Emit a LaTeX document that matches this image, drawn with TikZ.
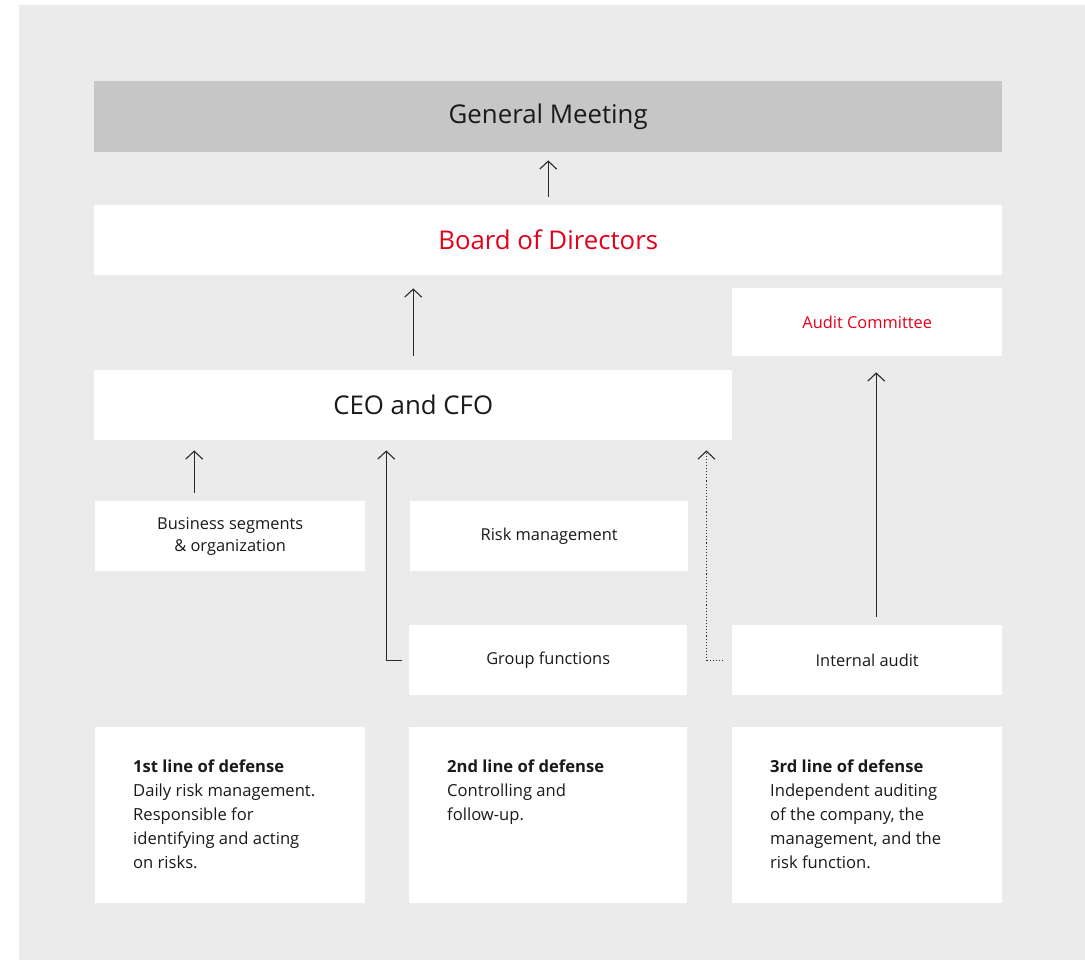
\documentclass[tikz,border=0pt]{standalone}
\usepackage{fontspec}
\setmainfont{Open Sans}
\usetikzlibrary{arrows.meta,calc}
\definecolor{bggray}{HTML}{EBEBEB}
\definecolor{gmgray}{HTML}{C6C6C6}
\definecolor{txt}{HTML}{1A1A1A}
\definecolor{redtxt}{HTML}{E2001A}
\definecolor{linec}{HTML}{2A2A2A}
\tikzset{
  box/.style={anchor=north west, fill=white, draw=none, inner sep=0pt, text=txt, align=center},
  bigtxt/.style={font=\fontsize{25.8}{30}\selectfont},
  smalltxt/.style={font=\fontsize{16.4}{22}\selectfont},
  desctxt/.style={anchor=north west, inner sep=0pt, align=left, text=txt, font=\fontsize{16.6}{24}\selectfont},
  arr/.style={draw=linec, line width=1.1pt, -{Straight Barb[length=8pt,width=17pt,line width=1.1pt]}},
}
\begin{document}
\begin{tikzpicture}[x=1pt,y=-1pt]
\useasboundingbox (0,0) rectangle (1085,960);
\fill[bggray] (19,5) rectangle (1085,960);
% boxes
\node[box, fill=gmgray, minimum width=908pt, minimum height=71pt, bigtxt] (gm) at (94,81) {General Meeting};
\node[box, minimum width=908pt, minimum height=70pt, bigtxt, text=redtxt] (bod) at (94,205) {Board of Directors};
\node[box, minimum width=270pt, minimum height=68pt, smalltxt, text=redtxt] (ac) at (732,288) {Audit Committee};
\node[box, minimum width=638pt, minimum height=70pt, bigtxt] (ceo) at (94,370) {CEO and CFO};
\node[box, minimum width=270pt, minimum height=70pt, smalltxt] (bus) at (95,501) {Business segments\\\& organization};
\node[box, minimum width=278pt, minimum height=70pt, smalltxt] (risk) at (410,501) {Risk management};
\node[box, minimum width=278pt, minimum height=70pt, smalltxt] (grp) at (409,625) {Group functions};
\node[box, minimum width=270pt, minimum height=70pt, smalltxt] (ia) at (732,625) {Internal audit};
\node[box, minimum width=270pt, minimum height=176pt] (l1) at (95,727) {};
\node[box, minimum width=278pt, minimum height=176pt] (l2) at (409,727) {};
\node[box, minimum width=270pt, minimum height=176pt] (l3) at (732,727) {};
% descriptions
\node[desctxt] (d1) at ($(l1.north west)+(38,33)$) {\textbf{1st line of defense}\\Daily risk management.\\Responsible for\\identifying and acting\\on risks.};
\node[desctxt] (d2) at ($(l2.north west)+(38,33)$) {\textbf{2nd line of defense}\\Controlling and\\follow-up.};
\node[desctxt] (d3) at ($(l3.north west)+(38,33)$) {\textbf{3rd line of defense}\\Independent auditing\\of the company, the\\management, and the\\risk function.};
% arrows
\draw[arr] ($(bod.north)+(0,-8)$) -- ($(gm.south)+(0,8)$);
\draw[arr] ($(ceo.north)+(0,-14)$) -- ($(ceo.north |- bod.south)+(0,13)$);
\coordinate (b1) at ($(bus.north)+(-36,-8)$);
\draw[arr] (b1) -- ($(b1 |- ceo.south)+(0,10)$);
\draw[arr] ($(grp.west)+(-7,0)$) -| ($(ceo.south)+(-27,10)$);
\draw[arr, dotted] ($(ia.west)+(-9,0)$) -| ($(ceo.south east)+(-26,10)$);
\coordinate (i1) at ($(ia.north)+(9,-8)$);
\draw[arr] (i1) -- ($(i1 |- ac.south)+(0,16)$);
\end{tikzpicture}
\end{document}
